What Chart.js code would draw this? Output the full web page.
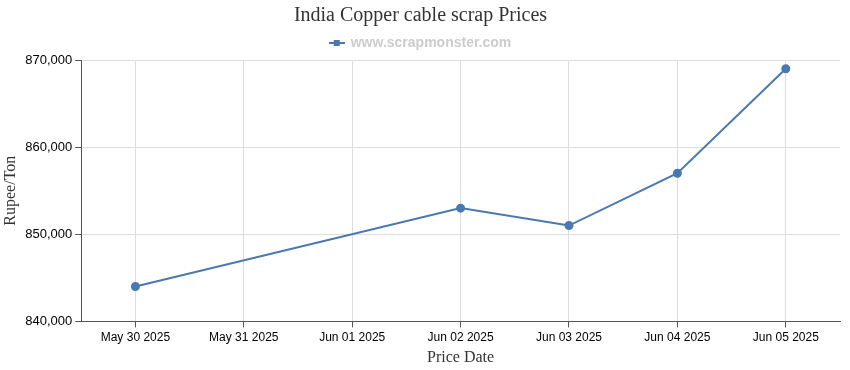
<!DOCTYPE html>
<html>
<head>
<meta charset="utf-8">
<script src="https://cdn.jsdelivr.net/npm/chart.js@4"></script>
<style>
  html, body { margin: 0; padding: 0; background: #fff; }
  #wrap { width: 850px; height: 370px; }
</style>
</head>
<body>
<div id="wrap"><canvas id="priceChart" width="850" height="370"></canvas></div>
<script>
const dates = ['May 30 2025', 'May 31 2025', 'Jun 01 2025', 'Jun 02 2025', 'Jun 03 2025', 'Jun 04 2025', 'Jun 05 2025'];
const prices = [844000, null, null, 853000, 851000, 857000, 869000];
const yTicks = [840000, 850000, 860000, 870000];

const lineColor = '#4a78b0';

// legend marker: a short line with a square in the middle
const marker = document.createElement('canvas');
marker.width = 16;
marker.height = 8;
(function () {
    const c = marker.getContext('2d');
    c.fillStyle = lineColor;
    c.fillRect(0, 3, 16, 2);
    c.fillRect(5, 1, 6, 6);
})();

new Chart(
    document.getElementById('priceChart'),
    {
        type: 'line',
        data: {
            labels: dates,
            datasets: [
                {
                    label: 'www.scrapmonster.com',
                    data: prices,
                    borderColor: lineColor,
                    backgroundColor: lineColor,
                    borderWidth: 2,
                    pointRadius: 3.5,
                    pointHoverRadius: 3.5,
                    tension: 0,
                    spanGaps: true
                }
            ]
        },
        options: {
            responsive: false,
            animation: false,
            layout: {
                padding: { left: 1, right: 10, top: 0, bottom: 3 }
            },
            plugins: {
                title: {
                    display: true,
                    text: 'India Copper cable scrap Prices',
                    color: '#333',
                    font: { family: 'Liberation Serif', size: 20, weight: 'normal' },
                    padding: { top: 4, bottom: 0 }
                },
                legend: {
                    display: true,
                    position: 'top',
                    labels: {
                        color: '#ccc',
                        font: { family: 'Liberation Sans', size: 14, weight: 'bold' },
                        usePointStyle: true,
                        generateLabels: (chart) => chart.data.datasets.map((ds, i) => ({
                            text: ds.label,
                            pointStyle: marker,
                            fontColor: '#ccc',
                            datasetIndex: i,
                            hidden: false
                        })),
                        padding: 8
                    }
                },
                tooltip: { enabled: false }
            },
            scales: {
                x: {
                    offset: true,
                    grid: {
                        color: '#ddd',
                        tickColor: '#555',
                        tickLength: 6,
                        offset: false
                    },
                    border: { color: '#555' },
                    ticks: {
                        color: '#000',
                        maxRotation: 0,
                        font: { family: 'Liberation Sans Narrow, Liberation Sans', size: 12 },
                        padding: 3
                    },
                    title: {
                        display: true,
                        text: 'Price Date',
                        color: '#333',
                        font: { family: 'Liberation Serif', size: 16 },
                        padding: { top: 0, bottom: 0 }
                    }
                },
                y: {
                    min: 840000,
                    max: 870000,
                    afterBuildTicks: (axis) => {
                        axis.ticks = yTicks.map(v => ({ value: v }));
                    },
                    grid: {
                        color: '#ddd',
                        tickColor: '#555',
                        tickLength: 6
                    },
                    border: { color: '#555' },
                    ticks: {
                        color: '#000',
                        font: { family: 'Liberation Sans', size: 13 },
                        padding: 3,
                        callback: (v) => v.toLocaleString('en-US')
                    },
                    title: {
                        display: true,
                        text: 'Rupee/Ton',
                        color: '#333',
                        font: { family: 'Liberation Serif', size: 16 },
                        padding: { top: 0, bottom: 2 }
                    }
                }
            }
        }
    }
);
</script>
</body>
</html>
